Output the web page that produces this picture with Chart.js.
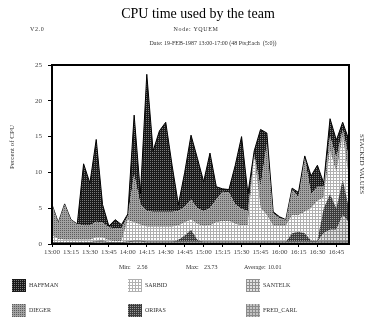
<!DOCTYPE html>
<html>
<head>
<meta charset="utf-8">
<script src="https://cdn.jsdelivr.net/npm/chart.js@4"></script>
<style>
  html, body { margin: 0; padding: 0; background: #fff; }
  #wrap { width: 372px; height: 328px; position: relative; }
</style>
</head>
<body>
<div id="wrap"><canvas id="cpu-chart"></canvas></div>
<script>
var times = [
  "13:00", "13:05", "13:10", "13:15", "13:20", "13:25", "13:30", "13:35", "13:40", "13:45", "13:50", "13:55",
  "14:00", "14:05", "14:10", "14:15", "14:20", "14:25", "14:30", "14:35", "14:40", "14:45", "14:50", "14:55",
  "15:00", "15:05", "15:10", "15:15", "15:20", "15:25", "15:30", "15:35", "15:40", "15:45", "15:50", "15:55",
  "16:00", "16:05", "16:10", "16:15", "16:20", "16:25", "16:30", "16:35", "16:40", "16:45", "16:50", "16:55"
];

// stacked bottom -> top
var fredCarl = [
  0.2, 0.2, 0.2, 0.2, 0.2, 0.2, 0.2, 0.3, 0.3, 0.2, 0.2, 0.2,
  0.3, 0.4, 0.4, 0.3, 0.3, 0.3, 0.3, 0.3, 0.3, 0.3, 0.3, 0.3,
  0.3, 0.3, 0.3, 0.3, 0.3, 0.3, 0.3, 0.3, 0.3, 0.3, 0.3, 0.3,
  0.3, 0.3, 0.3, 0.3, 0.3, 0.3, 0.3, 0.3, 0.3, 0.3, 0.3, 0.3
];
var santelk = [
  0, 0, 0, 0, 0.1, 0.1, 0.1, 0.2, 0.3, 0.1, 0, 0,
  0, 0, 0, 0, 0, 0, 0, 0, 0, 0, 0, 0,
  0, 0, 0, 0, 0, 0, 0, 0, 0, 0, 0, 0,
  0, 0, 0, 0, 0, 0, 0, 1.2, 1.7, 1.7, 3.7, 2.7
];
var oripas = [
  0, 0, 0, 0, 0, 0, 0, 0, 0, 0, 0, 0,
  0, 0, 0, 0, 0, 0, 0, 0, 0.3, 0.9, 1.7, 0.3,
  0, 0, 0, 0, 0, 0, 0, 0, 0, 0, 0, 0,
  0, 0, 1.2, 1.4, 1.2, 0.2, 0.2, 3.5, 5, 3, 5, 2
];
var sarbid = [
  1.0, 0.5, 0.4, 0.4, 0.3, 0.3, 0.3, 0.4, 0.3, 0.2, 0.2, 0.2,
  3.0, 2.6, 2.3, 2.1, 2.1, 2.1, 2.1, 2.1, 2.0, 1.8, 1.4, 2.2,
  2.2, 2.3, 2.7, 2.9, 2.9, 2.5, 2.3, 2.3, 11.7, 4.7, 3.7, 2.2,
  2.2, 2.2, 2.5, 2.3, 3.0, 4.5, 5.5, 1.5, 6, 5, 6, 4
];
var dieger = [
  4.3, 2.3, 5.0, 2.8, 2.2, 2.0, 2.0, 2.2, 2.1, 1.8, 1.8, 1.8,
  0.6, 6.7, 2.8, 2.2, 2.1, 2.1, 2.1, 2.1, 2.0, 2.2, 2.8, 2.2,
  2.1, 2.4, 3.2, 4.1, 4.0, 2.7, 2.3, 2.0, 0.5, 3, 10, 1.8,
  1.1, 0.9, 3.6, 2.5, 7.5, 2, 2, 1.5, 2, 2, 1, 3
];
var haffman = [
  0, 0, 0, 0, 0, 8.6, 5.9, 11.5, 2.5, 0.2, 1.2, 0.5,
  0.3, 8.3, 1.5, 19.1, 8.5, 11.3, 12.5, 6.5, 0.9, 4.8, 9.0, 7.0,
  4.1, 7.7, 1.8, 0.4, 0.4, 5.5, 10.1, 2.4, 0.5, 8, 1.5, 0.2,
  0.2, 0, 0.2, 0.7, 0.3, 2.5, 3, 0.5, 2.5, 2.5, 1, 2.5
];

var yTicks = [0, 5, 10, 15, 20, 25];
var legendOrder = ["HAFFMAN", "SARBID", "SANTELK", "DIEGER", "ORIPAS", "FRED_CARL"];
var statMin = "2.56", statMax = "23.73", statAvg = "10.01";

var canvas = document.getElementById("cpu-chart");
var ctx = canvas.getContext("2d");

// small dither tiles, "dot" = one odd pixel per tile, "grid" = light lines
function tile(bg, fg, step, mode) {
  var c = document.createElement("canvas");
  c.width = step;
  c.height = step;
  var g = c.getContext("2d");
  g.fillStyle = bg;
  g.fillRect(0, 0, step, step);
  g.fillStyle = fg;
  if (mode === "dot") {
    g.fillRect(0, 0, 1, 1);
  } else {
    g.fillRect(0, 0, step, 1);
    g.fillRect(0, 0, 1, step);
  }
  return ctx.createPattern(c, "repeat");
}

var serif = "'Liberation Serif', 'DejaVu Serif', serif";

function series(label, data, fill, pattern, line) {
  return {
    label: label,
    data: data,
    fill: fill,
    backgroundColor: pattern,
    borderColor: line || "rgba(0,0,0,0)",
    borderWidth: line ? 1 : 0,
    pointRadius: 0,
    tension: 0,
  };
}

var decorations = {
  id: "decorations",
  afterDraw: function (chart) {
    var c = chart.ctx;
    var a = chart.chartArea;
    c.save();
    c.strokeStyle = "#000";
    c.lineWidth = 2;
    c.strokeRect(a.left, a.top, a.right - a.left, a.bottom - a.top);

    c.fillStyle = "#000";
    c.textBaseline = "middle";
    c.textAlign = "center";
    c.font = "14px " + serif;
    c.fillText("CPU time used by the team", 198, 14);
    c.fillStyle = "#333";
    c.font = "6px " + serif;
    c.fillText("Date: 19-FEB-1987 13:00-17:00 (48 Pts;Each  (5:0))", 213, 43);
    c.letterSpacing = "0.6px";
    c.fillText("Node: YQUEM", 196, 29);
    c.textAlign = "left";
    c.fillText("V2.0", 30, 29);

    c.font = "7px " + serif;
    c.letterSpacing = "0px";
    c.save();
    c.translate(12.5, 147);
    c.rotate(-Math.PI / 2);
    c.textAlign = "center";
    c.fillText("Percent of CPU", 0, 0);
    c.restore();
    c.save();
    c.translate(362, 164);
    c.rotate(Math.PI / 2);
    c.textAlign = "center";
    c.fillText("STACKED VALUES", 0, 0);
    c.restore();

    c.font = "6px " + serif;
    c.textAlign = "left";
    c.fillText("Min:", 119, 267);
    c.fillText(statMin, 137, 267);
    c.fillText("Max:", 186, 267);
    c.fillText(statMax, 204, 267);
    c.fillText("Average:", 244, 267);
    c.fillText(statAvg, 268, 267);

    var colX = [12, 128, 246];
    var rowY = [279, 304];
    legendOrder.forEach(function (name, k) {
      var ds = chart.data.datasets.find(function (d) { return d.label === name; });
      var x = colX[k % 3];
      var y = rowY[Math.floor(k / 3)];
      c.fillStyle = ds.backgroundColor;
      c.fillRect(x, y, 14, 13);
      c.fillStyle = "#333";
      c.fillText(name, x + 17, y + 6.5);
    });
    c.restore();
  },
};

new Chart(ctx, {
  type: "line",
  data: {
    labels: times,
    datasets: [
      series("FRED_CARL", fredCarl, "origin", tile("#c4c4c4", "#8a8a8a", 3, "grid"), "#555"),
      series("SANTELK", santelk, "-1", tile("#e2e2e2", "#909090", 3, "grid")),
      series("ORIPAS", oripas, "-1", tile("#3c3c3c", "#9a9a9a", 2, "dot")),
      series("SARBID", sarbid, "-1", tile("#ffffff", "#b0b0b0", 3, "grid")),
      series("DIEGER", dieger, "-1", tile("#a2a2a2", "#5c5c5c", 2, "dot")),
      series("HAFFMAN", haffman, "-1", tile("#1a1a1a", "#7a7a7a", 2, "dot"), "#000"),
    ],
  },
  plugins: [decorations],
  options: {
    responsive: true,
    maintainAspectRatio: false,
    animation: false,
    layout: { padding: { top: 65, right: 23, bottom: 70, left: 0 } },
    plugins: {
      legend: { display: false },
      tooltip: { enabled: false },
    },
    scales: {
      x: {
        afterFit: function (scale) { scale.height = 14; },
        grid: { drawOnChartArea: false, drawTicks: true, tickLength: 3, color: "#000" },
        border: { display: true, color: "#000", width: 2 },
        ticks: {
          autoSkip: false,
          maxRotation: 0,
          padding: 1,
          color: "#444",
          font: { size: 7, family: serif },
          callback: function (val, idx) {
            return idx % 3 === 0 ? this.getLabelForValue(val) : null;
          },
        },
      },
      y: {
        stacked: true,
        min: 0,
        max: 25,
        afterFit: function (scale) { scale.width = 52; },
        afterBuildTicks: function (scale) {
          scale.ticks = yTicks.map(function (v) { return { value: v }; });
        },
        grid: { drawOnChartArea: false, drawTicks: true, tickLength: 4, color: "#000" },
        border: { display: true, color: "#000", width: 2 },
        ticks: {
          padding: 6,
          color: "#444",
          font: { size: 7, family: serif },
        },
      },
    },
  },
});
</script>
</body>
</html>
